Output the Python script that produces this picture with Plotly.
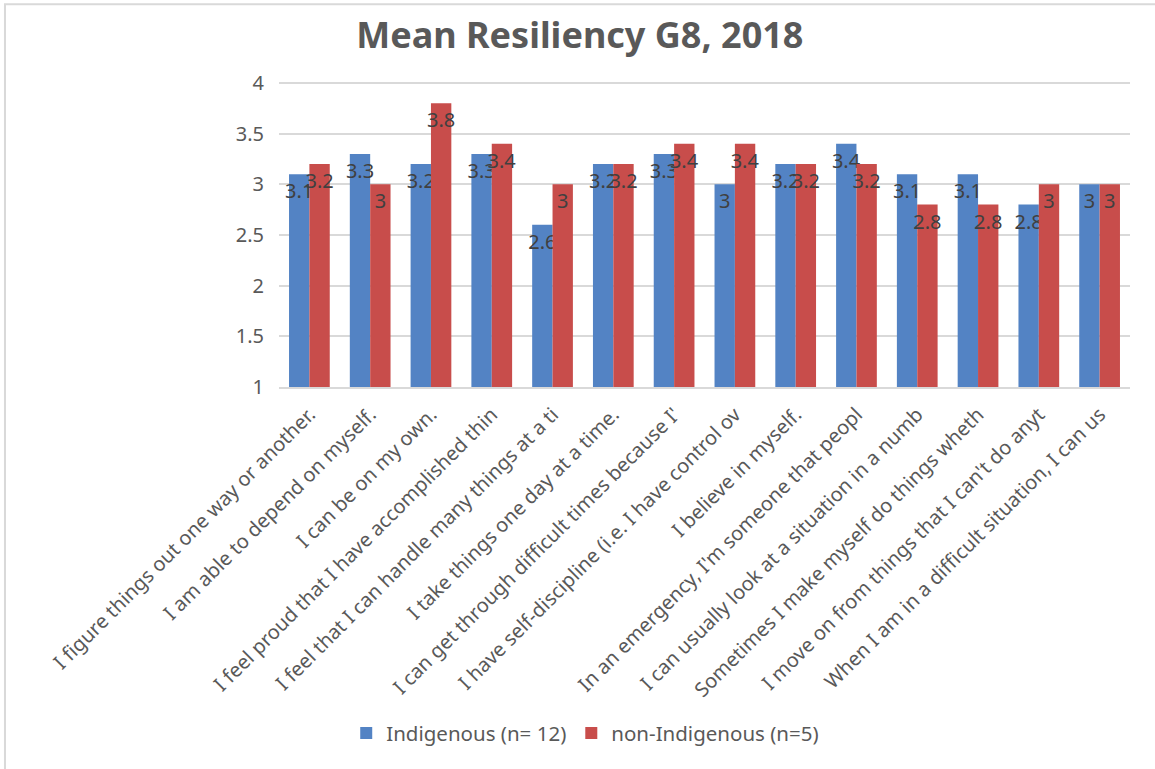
import plotly.graph_objects as go

# Resiliency statements (labels clipped as in the original chart)
categories = [
    "I figure things out one way or another.",
    "I am able to depend on myself.",
    "I can be on my own.",
    "I feel proud that I have accomplished thin",
    "I feel that I can handle many things at a ti",
    "I take things one day at a time.",
    "I can get through difficult times because I'",
    "I have self-discipline (i.e. I have control ov",
    "I believe in myself.",
    "In an emergency, I'm someone that peopl",
    "I can usually look at a situation in a numb",
    "Sometimes I make myself do things wheth",
    "I move on from things that I can't do anyt",
    "When I am in a difficult situation, I can us",
]

indigenous = [3.1, 3.3, 3.2, 3.3, 2.6, 3.2, 3.3, 3.0, 3.2, 3.4, 3.1, 3.1, 2.8, 3.0]
non_indigenous = [3.2, 3.0, 3.8, 3.4, 3.0, 3.2, 3.4, 3.4, 3.2, 3.2, 2.8, 2.8, 3.0, 3.0]

series_names = ["Indigenous (n= 12)", "non-Indigenous (n=5)"]

FONT = "Noto Sans"
GRAY = "#595959"

def fmt(v):
    return f"{v:g}"

fig = go.Figure()

fig.add_trace(go.Bar(
    x=categories, y=[v - 1 for v in indigenous], base=1,
    name=series_names[0],
    marker=dict(color="#5383C4", line=dict(width=0)),
    text=[fmt(v) for v in indigenous],
    textposition="inside", insidetextanchor="end",
    constraintext="none", textangle=0,
    textfont=dict(family=FONT, size=20, color="#404040"),
    hovertemplate="%{x}<br>%{text}<extra></extra>",
))

fig.add_trace(go.Bar(
    x=categories, y=[v - 1 for v in non_indigenous], base=1,
    name=series_names[1],
    marker=dict(color="#C84D4B", line=dict(width=0)),
    text=[fmt(v) for v in non_indigenous],
    textposition="inside", insidetextanchor="end",
    constraintext="none", textangle=0,
    textfont=dict(family=FONT, size=20, color="#404040"),
    hovertemplate="%{x}<br>%{text}<extra></extra>",
))

# light frame around the chart area (only top/left visible in the original)
fig.add_shape(type="rect", xref="paper", yref="paper",
              x0=-0.322, x1=1.2, y0=-1.4, y1=1.255,
              line=dict(color="#D9D9D9", width=2), layer="below")

fig.update_layout(
    width=1155, height=769,
    paper_bgcolor="white", plot_bgcolor="white",
    margin=dict(l=279, r=25, t=82, b=382, autoexpand=False),
    title=dict(text="<b>Mean Resiliency G8, 2018</b>", x=0.502, xanchor="center",
               y=0.9545, yanchor="middle",
               font=dict(family=FONT, size=36, color=GRAY)),
    barmode="group", bargap=0.33, bargroupgap=0,
    showlegend=True,
    legend=dict(orientation="h", x=0.079, xanchor="left", y=-1.135, yanchor="middle",
                font=dict(family=FONT, size=20.5, color=GRAY),
                itemwidth=30, traceorder="normal"),
    font=dict(family=FONT, color=GRAY),
)

# top of range nudged past 4 so the 4 gridline is drawn
fig.update_yaxes(range=[1, 4.01], dtick=0.5, tick0=1, automargin=False,
                 showgrid=True, gridcolor="#D9D9D9", gridwidth=2,
                 zeroline=False, showline=False, ticks="",
                 ticklabelstandoff=14,
                 tickfont=dict(family=FONT, size=20, color=GRAY))

fig.update_xaxes(tickangle=-45, showline=True, linecolor="#D9D9D9", linewidth=2,
                 ticks="", automargin=False, ticklabelstandoff=6,
                 tickfont=dict(family=FONT, size=20, color=GRAY))

# page body margin removed so the figure sits at the window's top-left corner
fig.write_html("out.html", config={"displayModeBar": False},
               post_script="document.body.style.margin='0';")
